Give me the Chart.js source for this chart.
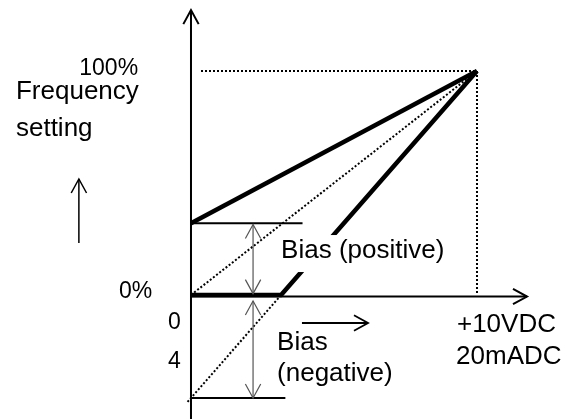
<!DOCTYPE html>
<html>
<head>
<meta charset="utf-8">
<script src="https://cdn.jsdelivr.net/npm/chart.js@4"></script>
<style>
  html, body { margin: 0; padding: 0; background: #fff; }
  #wrap { width: 570px; height: 419px; }
</style>
</head>
<body>
<div id="wrap"><canvas id="bias-chart" width="570" height="419"></canvas></div>
<script>
// input span (V) and frequency setting (%)
const inputSpan = [0, 10];
const referenceLine = [0, 100];
const positiveBias = [32, 100];
const negativeBias = [-46, 100];
const negZeroCross = 3.15;        // where the negative bias line reaches 0%
const guideStartX = 0.35;
const posBiasMarkEnd = 3.9;
const negBiasMarkEnd = 3.3;

const tickLabels = ['100%', '0%', '0', '4', '+10VDC', '20mADC'];
const textLabels = ['Frequency', 'setting', 'Bias (positive)', 'Bias', '(negative)'];

const FONT = '"Liberation Sans", Arial, Helvetica, sans-serif';

function seg(xs, ys) {
  return xs.map((x, i) => ({ x: x, y: ys[i] }));
}

const thick = { borderColor: '#000', borderWidth: 4.5, pointRadius: 0, showLine: true, clip: false, borderJoinStyle: 'miter' };
const dotted = { borderColor: '#000', borderWidth: 2, borderDash: [2, 2], pointRadius: 0, showLine: true, clip: false };
const thin = { borderColor: '#000', borderWidth: 2, pointRadius: 0, showLine: true, clip: false };

const datasets = [
  Object.assign({ data: seg([guideStartX, inputSpan[1], inputSpan[1]], [referenceLine[1], referenceLine[1], referenceLine[0]]) }, dotted),
  Object.assign({ data: seg(inputSpan, referenceLine) }, dotted),
  Object.assign({ data: seg([-0.12, inputSpan[1]], [negativeBias[0] - 0.12 * (negativeBias[1] - negativeBias[0]) / 10, negativeBias[1]]) }, dotted),
  Object.assign({ data: seg([0, posBiasMarkEnd], [positiveBias[0], positiveBias[0]]) }, thin),
  Object.assign({ data: seg([0, negBiasMarkEnd], [negativeBias[0], negativeBias[0]]) }, thin),
  Object.assign({ data: seg(inputSpan, positiveBias) }, thick),
  Object.assign({ data: seg([0, negZeroCross, inputSpan[1]], [0, 0, 100]) }, thick)
];

// arrows: from -> to in data units, head at "to" (and at "from" if both)
const arrows = [
  { from: [0, -56], to: [0, 127.2], w: 2, color: '#000' },
  { from: [0, -0.7], to: [11.75, -0.7], w: 2, color: '#000' },
  { from: [2.17, 0.6], to: [2.17, 31.5], w: 1.2, color: '#555', both: true },
  { from: [2.17, -46], to: [2.17, -2.7], w: 1.2, color: '#555', both: true },
  { from: [-3.92, 23.2], to: [-3.92, 51.8], w: 1.5, color: '#000' },
  { from: [3.88, -12.5], to: [6.19, -12.5], w: 1.8, color: '#000' }
];

// text placement in data units
const texts = [
  { t: tickLabels[0], x: -1.85, y: 98.4, size: 23, align: 'right' },
  { t: textLabels[0], x: -6.12, y: 87.5, size: 26, align: 'left' },
  { t: textLabels[1], x: -6.12, y: 71.0, size: 26, align: 'left' },
  { t: tickLabels[1], x: -2.52, y: -1.3, size: 23, align: 'left' },
  { t: tickLabels[2], x: -0.80, y: -15.2, size: 23, align: 'left' },
  { t: tickLabels[3], x: -0.80, y: -32.6, size: 23, align: 'left' },
  { t: textLabels[2], x: 3.15, y: 16.5, size: 26, align: 'left', bg: true },
  { t: textLabels[3], x: 3.01, y: -24.6, size: 26, align: 'left' },
  { t: textLabels[4], x: 3.01, y: -38.4, size: 26, align: 'left' },
  { t: tickLabels[4], x: 9.30, y: -16.5, size: 26, align: 'left' },
  { t: tickLabels[5], x: 9.27, y: -30.8, size: 26, align: 'left' }
];

function head(ctx, tx, ty, fx, fy) {
  const a = Math.atan2(ty - fy, tx - fx);
  const len = 16, spread = 0.5;
  ctx.beginPath();
  ctx.moveTo(tx - len * Math.cos(a - spread), ty - len * Math.sin(a - spread));
  ctx.lineTo(tx, ty);
  ctx.lineTo(tx - len * Math.cos(a + spread), ty - len * Math.sin(a + spread));
  ctx.stroke();
}

const decorPlugin = {
  id: 'decor',
  afterDatasetsDraw(chart) {
    const ctx = chart.ctx;
    const sx = chart.scales.x, sy = chart.scales.y;
    ctx.save();
    arrows.forEach(a => {
      const fx = sx.getPixelForValue(a.from[0]), fy = sy.getPixelForValue(a.from[1]);
      const tx = sx.getPixelForValue(a.to[0]), ty = sy.getPixelForValue(a.to[1]);
      ctx.strokeStyle = a.color;
      ctx.lineWidth = a.w;
      ctx.lineCap = 'butt';
      ctx.beginPath();
      ctx.moveTo(fx, fy);
      ctx.lineTo(tx, ty);
      ctx.stroke();
      ctx.lineJoin = 'miter';
      head(ctx, tx, ty, fx, fy);
      if (a.both) head(ctx, fx, fy, tx, ty);
    });
    ctx.textBaseline = 'alphabetic';
    texts.forEach(l => {
      ctx.font = l.size + 'px ' + FONT;
      ctx.textAlign = l.align;
      const px = sx.getPixelForValue(l.x), py = sy.getPixelForValue(l.y);
      if (l.bg) {
        const w = ctx.measureText(l.t).width;
        const left = l.align === 'right' ? px - w : px;
        ctx.fillStyle = '#fff';
        ctx.fillRect(left - 2, py - 23, w + 4, 37);
      }
      ctx.fillStyle = '#000';
      ctx.fillText(l.t, px, py);
    });
    ctx.restore();
  }
};

new Chart(document.getElementById('bias-chart'), {
  type: 'scatter',
  data: { datasets: datasets },
  options: {
    responsive: false,
    animation: false,
    layout: { padding: 0 },
    plugins: { legend: { display: false }, tooltip: { enabled: false } },
    elements: { line: { tension: 0 } },
    scales: {
      x: { type: 'linear', display: false, bounds: 'data', min: -6.678, max: 13.252 },
      y: { type: 'linear', display: false, bounds: 'data', min: -55.36, max: 131.7 }
    }
  },
  plugins: [decorPlugin]
});
</script>
</body>
</html>
